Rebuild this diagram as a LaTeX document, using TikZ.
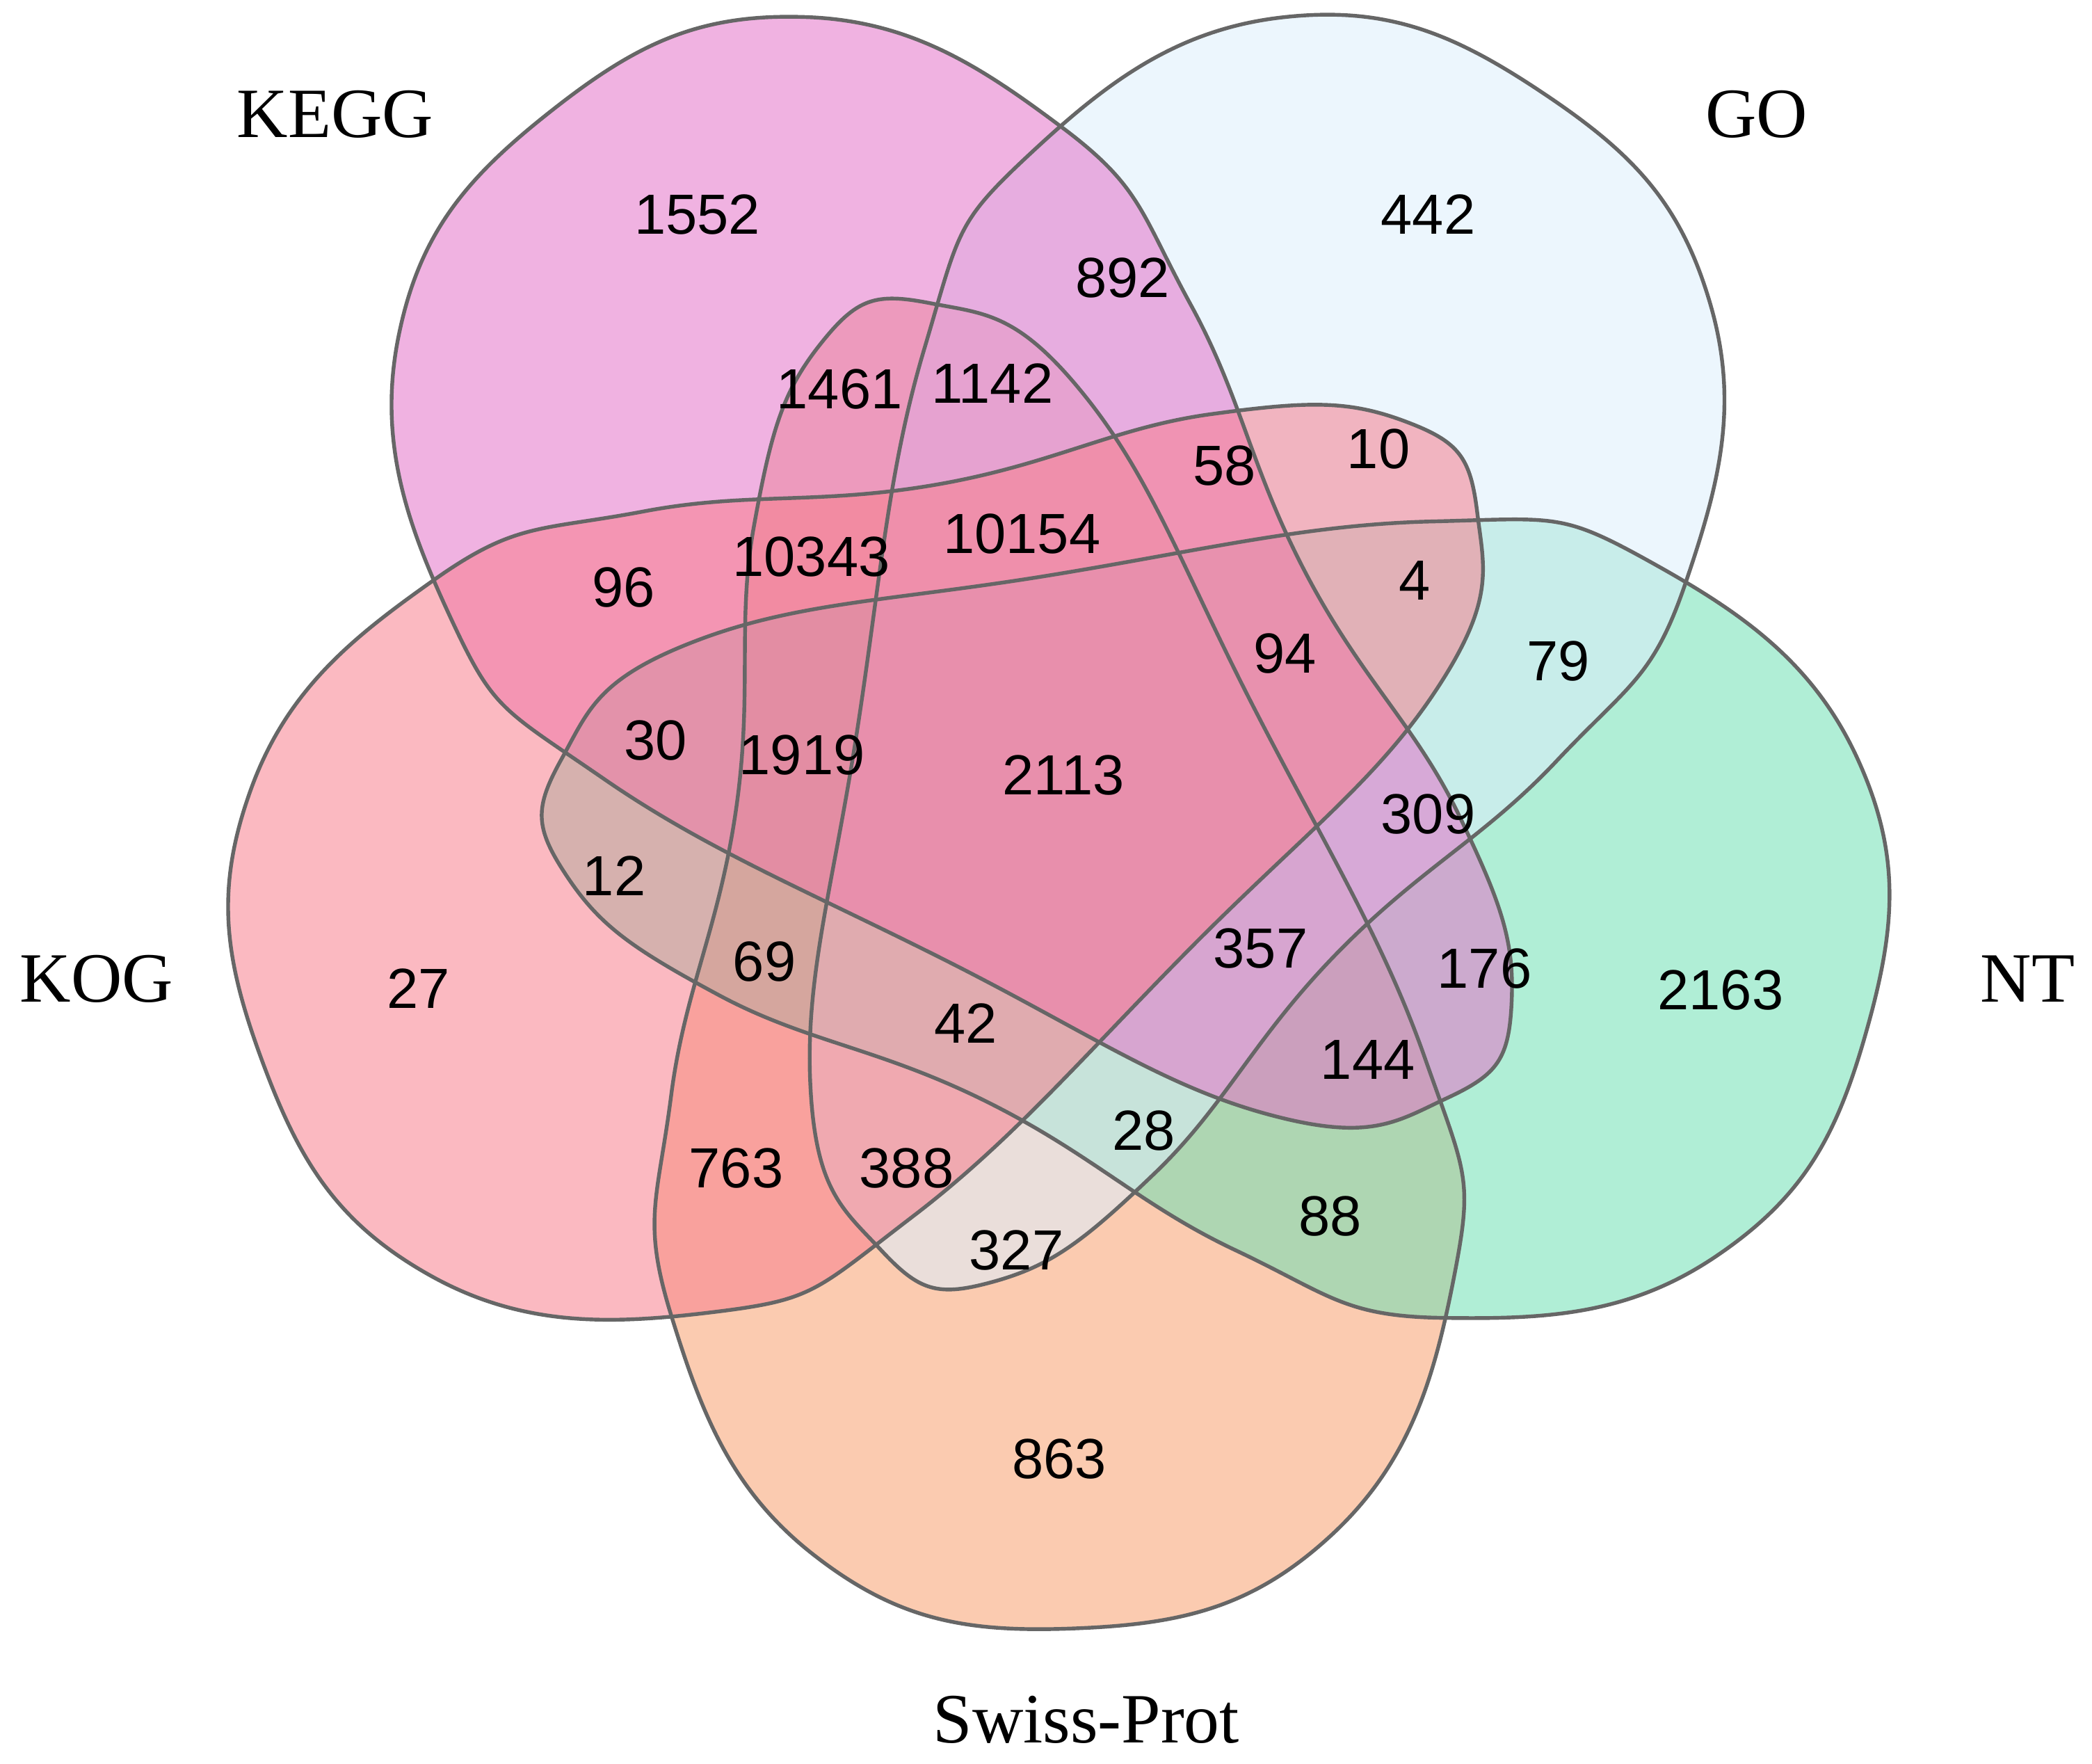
\documentclass[tikz,border=0pt]{standalone}
\usepackage{fontspec}
\setmainfont{Liberation Serif}
\newfontfamily\numfont{Liberation Sans}
\definecolor{keggc}{HTML}{E472C8}
\definecolor{goc}{HTML}{DCEEFC}
\definecolor{ntc}{HTML}{6FE0B4}
\definecolor{swissc}{HTML}{F7A070}
\definecolor{kogc}{HTML}{F77F8E}
\tikzset{
  count/.style={font=\numfont\fontsize{24}{24}\selectfont},
  setname/.style={font=\fontsize{30}{30}\selectfont}
}
% one petal, drawn for Swiss-Prot and turned for the others
\newcommand{\petalpath}{plot[smooth cycle, tension=0.75] coordinates {(-100,372) (20,300)
  (150,60) (282,-210) (305,-380) (210,-580) (10,-652) (-190,-595) (-300,-410)
  (-300,-240) (-250,-20) (-236,200) (-185,340)}}
\begin{document}
\begin{tikzpicture}[x=0.02cm,y=0.02cm]
  \useasboundingbox (0,0) rectangle (1560,-1315);
  % five sets
  \foreach \ang/\col in {0/swissc,72/ntc,144/goc,216/keggc,288/kogc}{
    \begin{scope}[shift={(790,-585)}, rotate=\ang, scale=0.965]
      \fill[\col, fill opacity=0.55] \petalpath;
    \end{scope}
  }
  \foreach \ang in {0,72,144,216,288}{
    \begin{scope}[shift={(790,-585)}, rotate=\ang, scale=0.965]
      \draw[black!60, line width=1.6pt] \petalpath;
    \end{scope}
  }
  % set names
  \node[setname] (kegg) at (250,-85) {KEGG};
  \node[setname] (go) at (1310,-85) {GO};
  \node[setname] (kog) at (72,-730) {KOG};
  \node[setname] (nt) at (1512,-730) {NT};
  \node[setname] (swiss) at (810,-1282) {Swiss-Prot};
  % counts
  \foreach \x/\y/\n [count=\i] in {520/160/1552, 1065/160/442, 837/207/892, 626/290/1461,
      740/286/1142, 913/347/58, 1028/335/10, 465/438/96, 605/415/10343, 762/398/10154,
      1055/433/4, 958/487/94, 1162/493/79, 489/552/30, 598/563/1919, 793/578/2113,
      1065/607/309, 458/653/12, 312/737/27, 570/717/69, 940/707/357, 1107/722/176,
      1283/738/2163, 720/763/42, 1020/790/144, 853/843/28, 549/871/763, 676/871/388,
      992/907/88, 758/932/327, 790/1088/863}{
    \node[count] (c\i) at (\x,-\y) {\n};
  }
\end{tikzpicture}
\end{document}
